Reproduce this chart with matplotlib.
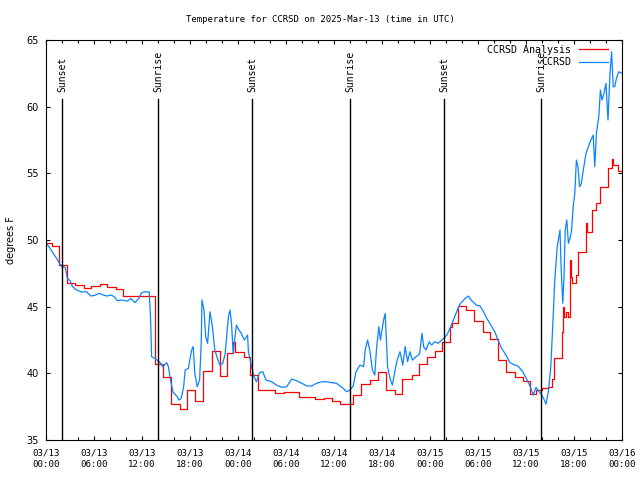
import matplotlib
matplotlib.use("Agg")
import matplotlib.pyplot as plt
import matplotlib.dates as mdates
import numpy as np
from datetime import datetime, timedelta

START = datetime(2025, 3, 13, 0, 0)

# Observed CCRSD temperature (hours after 03/13 00:00 UTC, deg F)
blue_h = [0.0, 0.5, 0.9, 1.33, 1.67, 1.96, 2.4, 2.67, 3.0, 3.33, 3.83, 4.46, 5.08, 5.58, 6.1, 6.67,
          7.17, 7.58, 8.2, 8.6, 8.9, 9.46, 10.2, 10.6, 11.1, 11.6, 11.96, 12.4, 12.9, 13.08, 13.2,
          13.6, 14.17, 14.6, 15.08, 15.3, 15.6, 15.9, 16.4, 16.6, 16.9, 17.2, 17.4, 17.8, 18.2, 18.4,
          18.6, 18.9, 19.2, 19.4, 19.5, 19.75, 19.96, 20.2, 20.5, 20.8, 21.1, 21.5, 21.75, 22.1, 22.4,
          22.8, 23.0, 23.2, 23.4, 23.8, 24.0, 24.4, 24.8, 25.2, 25.3, 25.7, 26.0, 26.3, 26.7, 27.1,
          27.5, 28.2, 28.8, 29.5, 30.1, 30.7, 31.3, 32.0, 32.6, 33.2, 33.8, 34.5, 35.1, 35.7, 36.3,
          37.0, 37.6, 38.0, 38.4, 38.75, 39.25, 39.7, 39.9, 40.2, 40.5, 40.8, 41.1, 41.3, 41.6, 41.8,
          42.2, 42.4, 42.7, 43.0, 43.3, 43.6, 43.9, 44.25, 44.6, 44.9, 45.2, 45.5, 45.8, 46.25, 46.7,
          47.0, 47.2, 47.5, 47.9, 48.2, 48.6, 49.0, 49.5, 50.1, 50.5, 51.25, 51.75, 52.4, 52.8, 53.2,
          53.8, 54.25, 54.7, 55.1, 55.6, 56.1, 56.5, 56.96, 57.5, 58.0, 58.6, 59.0, 59.6, 60.1, 60.5,
          60.9, 61.25, 61.5, 61.96, 62.25, 62.5, 62.8, 63.1, 63.3, 63.5, 63.6, 63.9, 64.25, 64.4, 64.6,
          64.75, 64.9, 65.1, 65.3, 65.5, 65.7, 65.9, 66.1, 66.3, 66.5, 66.7, 66.9, 67.1, 67.5, 67.8,
          68.1, 68.4, 68.6, 68.8, 69.1, 69.3, 69.5, 69.75, 70.0, 70.25, 70.5, 70.7, 70.9, 71.1, 71.3,
          71.6, 72.0]
blue_t = [49.8, 49.37, 49.0, 48.62, 48.25, 48.0, 47.95, 47.12, 46.95, 46.5, 46.25, 46.1, 46.12, 45.8, 45.85, 46.0,
          45.87, 45.8, 45.87, 45.7, 45.45, 45.5, 45.42, 45.62, 45.3, 45.62, 46.05, 46.12, 46.1, 44.0, 41.25,
          41.12, 40.87, 40.5, 40.8, 40.5, 39.37, 38.57, 38.25, 38.0, 38.12, 39.0, 40.25, 40.37, 41.75, 42.0,
          40.0, 39.0, 39.5, 42.25, 45.5, 44.75, 42.75, 42.25, 44.62, 43.5, 41.75, 41.0, 40.62, 40.75, 41.5,
          44.25, 44.75, 43.62, 41.5, 43.62, 43.37, 43.0, 42.5, 42.87, 41.62, 40.5, 39.75, 39.37, 40.05, 40.12,
          39.5, 39.37, 39.12, 38.95, 39.0, 39.57, 39.45, 39.25, 39.05, 39.05, 39.25, 39.37, 39.37, 39.3, 39.25,
          38.95, 38.62, 38.75, 39.05, 40.12, 40.62, 40.5, 41.75, 42.5, 41.62, 40.25, 39.87, 41.75, 43.5, 42.5,
          44.0, 44.5, 40.5, 39.62, 39.12, 40.12, 41.0, 41.62, 40.62, 42.0, 40.87, 41.62, 41.0, 41.25, 41.45,
          43.0, 42.0, 41.75, 42.37, 42.12, 42.37, 42.25, 42.5, 42.87, 43.37, 44.5, 45.2, 45.62, 45.8, 45.45,
          45.12, 45.05, 44.62, 44.12, 43.62, 43.12, 42.5, 41.87, 41.37, 40.8, 40.62, 40.55, 40.12, 39.55, 39.05,
          38.37, 38.95, 38.75, 38.37, 38.05, 37.7, 38.62, 40.5, 43.0, 45.75, 47.0, 49.5, 50.75, 47.75, 45.25,
          47.25, 50.75, 51.5, 49.75, 50.12, 50.75, 52.5, 53.5, 56.0, 55.5, 54.0, 54.2, 55.0, 56.5, 57.0,
          57.5, 57.87, 55.5, 58.0, 59.25, 61.25, 60.5, 61.0, 61.75, 59.0, 62.5, 64.1, 61.5, 61.5, 62.12,
          62.62, 62.5]

# CCRSD Analysis (step series)
red_h = [0.0, 0.7, 1.6, 2.6, 3.6, 4.7, 5.6, 6.7, 7.6, 8.7, 9.6, 13.6, 14.6, 15.6, 16.7, 17.6, 18.6,
         19.6, 20.7, 21.7, 22.6, 23.4, 23.6, 24.7, 25.5, 26.5, 28.6, 29.7, 31.6, 33.6, 34.7, 35.7,
         36.7, 38.4, 39.4, 40.5, 41.5, 42.5, 43.6, 44.5, 45.7, 46.6, 47.6, 48.6, 49.5, 50.5, 50.8,
         51.5, 52.5, 53.5, 54.6, 55.5, 56.5, 57.5, 58.6, 59.6, 60.5, 61.3, 62.0, 62.8, 63.3, 63.5,
         64.5, 64.6, 64.8, 65.0, 65.2, 65.45, 65.5, 65.6, 65.8, 66.3, 66.5, 67.5, 67.6, 68.2, 68.7,
         69.3, 70.2, 70.7, 70.9, 71.5, 72.0]
red_t = [49.8, 49.55, 48.1, 46.78, 46.6, 46.37, 46.52, 46.7, 46.45, 46.3, 45.8, 40.7, 39.75, 37.72, 37.3, 38.72, 37.9,
         40.17, 41.65, 39.8, 41.5, 42.37, 41.6, 41.25, 39.87, 38.75, 38.5, 38.6, 38.25, 38.07, 38.15, 37.95,
         37.7, 38.37, 39.17, 39.5, 40.07, 38.75, 38.42, 39.6, 39.87, 40.67, 41.25, 41.65, 42.32, 43.5, 43.75,
         45.05, 44.75, 43.95, 43.07, 42.55, 41.0, 40.12, 39.7, 39.45, 38.42, 38.75, 38.87, 39.0, 39.6, 41.12,
         43.12, 45.0, 44.2, 44.6, 44.25, 46.4, 48.5, 47.2, 46.75, 47.4, 49.12, 51.3, 50.6, 52.25, 52.75,
         54.0, 55.37, 56.05, 55.6, 55.2, 55.2]

# Sun events (hours after start)
sun_h = [2.0, 14.03, 25.8, 38.03, 49.8, 61.92]
sun_lbl = ["Sunset", "Sunrise", "Sunset", "Sunrise", "Sunset", "Sunrise"]

title = "Temperature for CCRSD on 2025-Mar-13 (time in UTC)"

def to_dt(hs):
    return [START + timedelta(hours=h) for h in hs]

MONO = "DejaVu Sans Mono"

fig = plt.figure(figsize=(6.4, 4.8), dpi=100)
ax = fig.add_axes([46/640, 40/480, 576/640, 400/480])

ax.plot(to_dt(red_h), red_t, color="#ff0000", lw=0.9, drawstyle="steps-post", label="CCRSD Analysis")
ax.plot(to_dt(blue_h), blue_t, color="#0a84ff", lw=0.9, label="CCRSD")

for h, lbl in zip(sun_h, sun_lbl):
    d = START + timedelta(hours=h)
    ax.plot([d, d], [35, 60.6], color="black", lw=1.0)
    ax.text(d, 61.1, lbl, rotation=90, ha="center", va="bottom", fontsize=7, family=MONO)

ax.set_xlim(START, START + timedelta(hours=72))
ax.set_ylim(35, 65)
ax.set_yticks(np.arange(35, 66, 5))
ax.xaxis.set_major_locator(mdates.HourLocator(byhour=range(0, 24, 6)))
ax.xaxis.set_minor_locator(mdates.HourLocator(byhour=range(0, 24, 2)))
ax.xaxis.set_major_formatter(mdates.DateFormatter("%m/%d\n%H:%M"))

ax.tick_params(axis="both", which="both", direction="in", top=True, right=True, width=0.8)
ax.tick_params(axis="x", which="major", length=3.2, pad=6, labelsize=6.6)
ax.tick_params(axis="x", which="minor", length=2)
ax.tick_params(axis="y", which="major", length=3.2, pad=5, labelsize=7)
for lab in ax.get_xticklabels():
    lab.set_family(MONO)
    lab.set_linespacing(1.45)

for s in ax.spines.values():
    s.set_linewidth(0.8)

ax.set_ylabel("degrees F", fontsize=7)
ax.yaxis.set_label_coords(-0.052, 0.5)
fig.text(0.5, 1 - 19/480, title, fontsize=6.5, family=MONO, ha="center", va="center")

leg = ax.legend(loc="upper right", markerfirst=False, frameon=False, prop={"family": MONO, "size": 7.2},
                handlelength=2.9, handletextpad=0.8, labelspacing=0.25, borderaxespad=0.1,
                bbox_to_anchor=(0.985, 1.0))

fig.savefig("out.png", dpi=100)
